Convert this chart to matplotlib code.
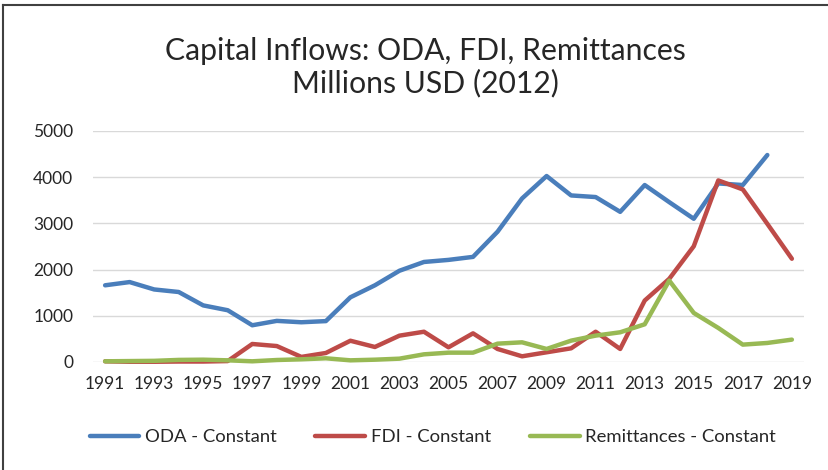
import numpy as np
import matplotlib
matplotlib.use('Agg')
import matplotlib.pyplot as plt
from matplotlib.lines import Line2D

# 데이터 (그림에서 읽은 값, 백만 USD)
years = list(range(1991, 2020))
oda = [1660, 1730, 1570, 1515, 1225, 1120, 795, 890, 860, 885,
       1400, 1660, 1975, 2165, 2210, 2275, 2820, 3540, 4025, 3605,
       3570, 3250, 3830, 3460, 3100, 3865, 3830, 4480, np.nan]
fdi = [15, 5, 5, 10, 10, 20, 390, 345, 110, 195,
       460, 325, 570, 655, 318, 620, 282, 123, 210, 296,
       655, 282, 1330, 1800, 2505, 3930, 3735, 2990, 2235]
remit = [15, 20, 25, 45, 50, 36, 15, 43, 58, 80,
         36, 50, 72, 166, 202, 202, 397, 426, 282, 462,
         571, 643, 816, 1763, 1062, 737, 376, 412, 484]
series_names = ['ODA - Constant', 'FDI - Constant', 'Remittances - Constant']
colors = ['#4A7EBB', '#BE4B48', '#98B954']

plt.rcParams['font.family'] = ['Lato', 'DejaVu Sans']

fig = plt.figure(figsize=(8.29, 4.70), dpi=100)
ax = fig.add_axes([0.112, 0.2298, 0.858, 0.4915])

x = np.arange(len(years))
handles = []
for vals, name, c in zip([oda, fdi, remit], series_names, colors):
    ln, = ax.plot(x, vals, color=c, lw=3.2, solid_capstyle='round',
                  solid_joinstyle='round', clip_on=False, label=name)
    handles.append(ln)

ax.set_xlim(-0.5, len(years) - 0.5)
ax.set_ylim(0, 5000)
ax.set_yticks(range(0, 5001, 1000))
ax.set_xticks(x[::2])
ax.set_xticklabels([str(y) for y in years[::2]])
ax.grid(axis='y', color='#D9D9D9', lw=1)
ax.set_axisbelow(True)
for s in ax.spines.values():
    s.set_visible(False)
ax.tick_params(length=0, labelsize=12.5, colors='#262626')
ax.tick_params(axis='x', pad=10)
ax.tick_params(axis='y', pad=14)

fig.text(0.513, 0.857, 'Capital Inflows: ODA, FDI, Remittances\nMillions USD (2012)',
         ha='center', va='center', fontsize=21.7, color='#262626', linespacing=1.2)

fig.legend(handles=handles, loc='center', bbox_to_anchor=(0.522, 0.07), ncol=3,
           frameon=False, fontsize=13.3, handlelength=2.7, handletextpad=0.3,
           columnspacing=2.1, labelcolor='#262626')

# 테두리 (위, 왼쪽)
fig.add_artist(Line2D([0.004, 0.004], [0, 0.99], transform=fig.transFigure, color='#404040', lw=1.5))
fig.add_artist(Line2D([0.004, 1.0], [0.99, 0.99], transform=fig.transFigure, color='#404040', lw=1.5))

fig.savefig('out.png', dpi=100)
